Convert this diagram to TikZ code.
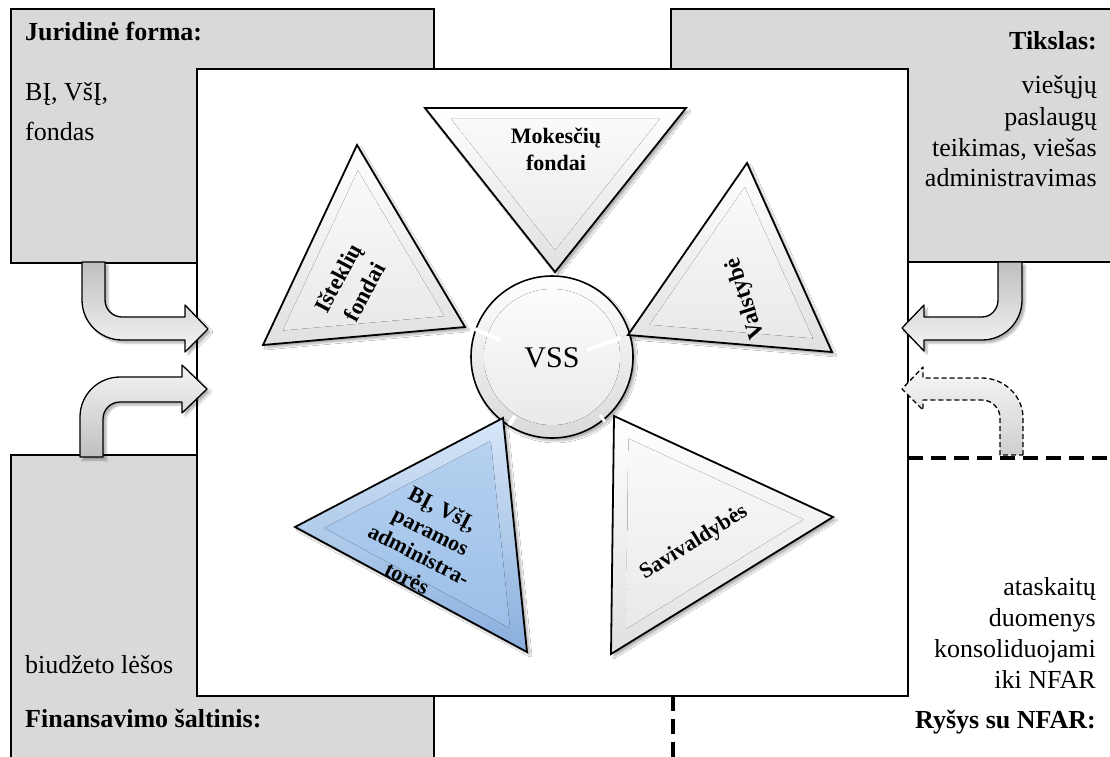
\documentclass[tikz,border=0pt]{standalone}
\usepackage{fontspec}
\setmainfont{Liberation Serif}
\usetikzlibrary{calc,shadows.blur}
\definecolor{boxgray}{HTML}{D9D9D9}
\definecolor{blueedge}{HTML}{D8E7F8}
\definecolor{bluedeep}{HTML}{88AEDD}
\definecolor{bluetop}{HTML}{B6D1F0}
\definecolor{bluebot}{HTML}{9BBFE8}

% bevelled triangle: three vertex names, outer fill style, inner fill style
\newcommand\bevtri[5]{%
  \coordinate (g) at (barycentric cs:#1=1,#2=1,#3=1);
  \fill[#4, softshadow] (#1) -- (#2) -- (#3) -- cycle;
  \fill[#5] ($(g)!0.8!(#1)$) -- ($(g)!0.8!(#2)$) -- ($(g)!0.8!(#3)$) -- cycle;
  \draw[tri] (#1) -- (#2) -- (#3) -- cycle;
}

\begin{document}
\begin{tikzpicture}[x=1pt,y=-1pt,
  panel/.style={fill=boxgray, draw=black, line width=2.6pt},
  frame/.style={fill=white, draw=black, line width=2.6pt},
  sep/.style={line width=4.5pt, dash pattern=on 15pt off 8pt},
  txt/.style={inner sep=0pt, font=\fontsize{26}{30}\selectfont},
  head/.style={inner sep=0pt, font=\fontsize{26}{30}\selectfont\bfseries},
  tri/.style={line width=1.8pt, line join=miter},
  trilabel/.style={inner sep=0pt, align=center, font=\fontsize{22}{27}\selectfont\bfseries},
  softshadow/.style={blur shadow={shadow xshift=3pt, shadow yshift=-3pt, shadow blur steps=6, shadow opacity=30}},
  greyout/.style={top color=white, bottom color=gray!24},
  greyin/.style={top color=gray!4, bottom color=gray!17},
  blueout/.style={top color=blueedge, bottom color=bluedeep},
  bluein/.style={top color=bluetop, bottom color=bluebot},
  bentarrow/.style={line width=1.3pt, line join=round, softshadow},
  bendtop/.style={bentarrow, top color=gray!50, bottom color=gray!8},
  bendbot/.style={bentarrow, top color=gray!8, bottom color=gray!50},
  benddash/.style={line width=1.3pt, line join=round, dash pattern=on 5pt off 3pt,
                   top color=gray!6, bottom color=gray!38},
]
\useasboundingbox (0,0) rectangle (1110,756);
\clip (0,0) rectangle (1110,756);

% side panels
\draw[panel] (11,9) rectangle (434,263);
\draw[panel] (671,9) rectangle (1116,262);
\draw[panel] (11,455) rectangle (434,762);

% dashed separators of the lower right field
\draw[sep] (908,458) -- (1116,458);
\draw[sep] (673,696) -- (673,762);

% central field
\draw[frame] (197,69) rectangle (908,696);

% bent arrows
\draw[bendtop] (82,262) -- (82,300) .. controls (82,322.1) and (99.9,340) .. (122,340)
  -- (185,340) -- (185,352) -- (208,329) -- (185,305) -- (185,317) -- (122,317)
  .. controls (112.6,317) and (105,309.4) .. (105,300) -- (105,262) -- cycle;
\draw[bendbot] (80,457) -- (80,417) .. controls (80,394.9) and (97.9,377) .. (120,377)
  -- (182,377) -- (182,365) -- (207,389) -- (182,413) -- (182,402) -- (120,402)
  .. controls (110.6,402) and (103,409.6) .. (103,419) -- (103,457) -- cycle;
\draw[bendtop] (1022,262) -- (1022,300) .. controls (1022,322.1) and (1004.1,340) .. (982,340)
  -- (924,340) -- (924,351) -- (902,328) -- (924,305) -- (924,317) -- (982,317)
  .. controls (990.8,317) and (998,309.4) .. (998,300) -- (998,262) -- cycle;
\draw[benddash] (1023,455) -- (1023,418) .. controls (1023,395.9) and (1004.1,378) .. (982,378)
  -- (923,378) -- (923,367) -- (902,389) -- (923,410) -- (923,400) -- (982,400)
  .. controls (991.9,400) and (1000,408.1) .. (1000,418) -- (1000,455) -- cycle;

% central disc
\coordinate (vssc) at (552,357);
\fill[softshadow, top color=white, bottom color=gray!30] (vssc) circle[radius=81];
\fill[top color=gray!2, bottom color=gray!17] (vssc) circle[radius=68];
\draw[line width=1.6pt] (vssc) circle[radius=81];
\draw[white, line width=4pt] (475,329) -- (500,340);
\draw[white, line width=4pt] (587,350) -- (621,338);
\draw[white, line width=4pt] (509,425) -- (515,416);
\draw[white, line width=3pt] (600,415) -- (605,422);

% triangle vertices
\coordinate (M1) at (425,108); \coordinate (M2) at (686,108); \coordinate (M3) at (555,272);
\coordinate (I1) at (357,145); \coordinate (I2) at (465,327); \coordinate (I3) at (263,345);
\coordinate (V1) at (747,163); \coordinate (V2) at (832,352); \coordinate (V3) at (628,335);
\coordinate (B1) at (503,418); \coordinate (B2) at (527,652); \coordinate (B3) at (295,527);
\coordinate (S1) at (614,416); \coordinate (S2) at (833,517); \coordinate (S3) at (611,654);

\bevtri{M1}{M2}{M3}{greyout}{greyin}
\bevtri{I1}{I2}{I3}{greyout}{greyin}
\bevtri{V1}{V2}{V3}{greyout}{greyin}
\bevtri{B1}{B2}{B3}{blueout}{bluein}
\bevtri{S1}{S2}{S3}{greyout}{greyin}

% triangle labels
\node[trilabel] (mok) at (556,149) {Mokesčių\\fondai};
\node[trilabel, rotate=62, font=\fontsize{23}{30}\selectfont\bfseries] (ist) at (351,285) {Išteklių\\fondai};
\node[trilabel, rotate=108, font=\fontsize{23}{27}\selectfont\bfseries] (val) at (746,298) {Valstybė};
\node[trilabel, rotate=-27, font=\fontsize{22}{26}\selectfont\bfseries] (bi) at (425,543) {BĮ, VšĮ,\\paramos\\administra-\\torės};
\node[trilabel, rotate=32] (sav) at (694,543) {Savivaldybės};
\node[inner sep=0pt, anchor=base, font=\fontsize{30}{30}\selectfont] (vss) at (552,367) {VSS};

% panel texts
\node[head, anchor=base west] (jf) at (25,40) {Juridinė forma:};
\node[txt, anchor=base west] (jf1) at (25,100) {BĮ, VšĮ,};
\node[txt, anchor=base west] (jf2) at (25,140) {fondas};

\node[head, anchor=base east] (ts) at (1097,49) {Tikslas:};
\node[txt, anchor=base east] (ts1) at (1097,93) {viešųjų};
\node[txt, anchor=base east] (ts2) at (1097,125) {paslaugų};
\node[txt, anchor=base east] (ts3) at (1097,156) {teikimas, viešas};
\node[txt, anchor=base east] (ts4) at (1097,186) {administravimas};

\node[txt, anchor=base west] (fs1) at (25,673) {biudžeto lėšos};
\node[head, anchor=base west] (fs) at (25,727) {Finansavimo šaltinis:};

\node[txt, anchor=base east] (rn1) at (1096,595) {ataskaitų};
\node[txt, anchor=base east] (rn2) at (1096,626) {duomenys};
\node[txt, anchor=base east] (rn3) at (1096,657) {konsoliduojami};
\node[txt, anchor=base east] (rn4) at (1096,688) {iki NFAR};
\node[head, anchor=base east] (rn) at (1096,728) {Ryšys su NFAR:};
\end{tikzpicture}
\end{document}
